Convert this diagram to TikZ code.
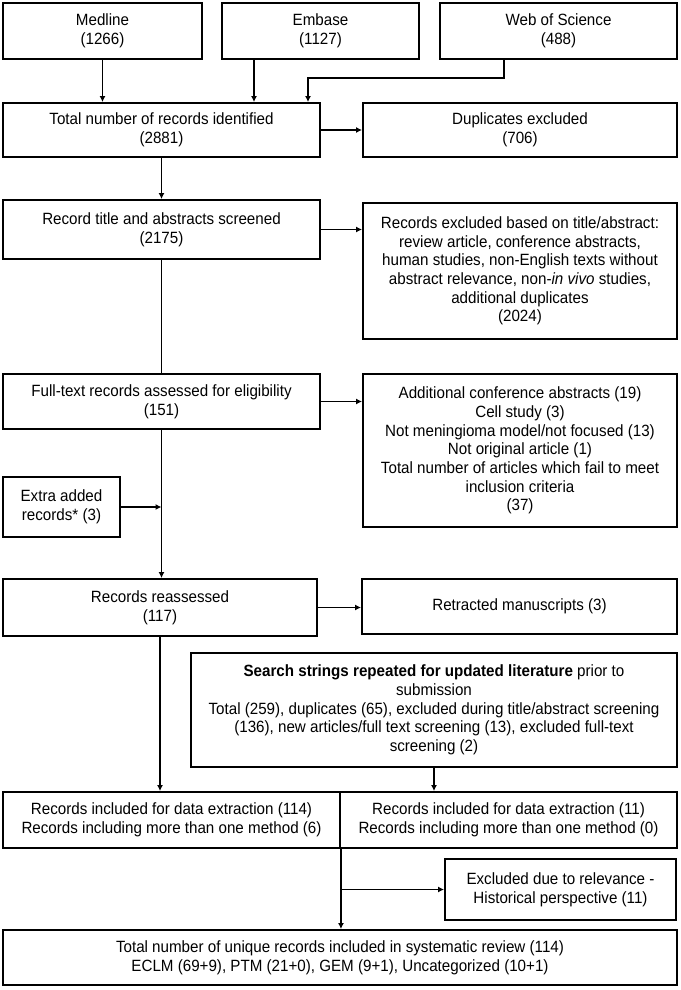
\documentclass[tikz,border=0pt]{standalone}
\usepackage{fontspec}
\setmainfont{Liberation Sans}[FakeStretch=0.93]
\usetikzlibrary{arrows.meta}

\tikzset{
  box/.style={draw, line width=1.9pt, align=center, inner sep=0pt,
    font=\fontsize{16.3}{18.7}\selectfont},
  arr/.style={line width=1.7pt, -{Latex[length=6pt,width=6pt]}},
  link/.style={line width=1.7pt}
}

\begin{document}
\begin{tikzpicture}[x=1pt, y=-1pt]
\useasboundingbox (0,0) rectangle (680,990);
% sources
\node[box, minimum width=199pt, minimum height=56pt] (med) at (102.5,31) {Medline\\(1266)};
\node[box, minimum width=197pt, minimum height=56pt] (emb) at (320.5,31) {Embase\\(1127)};
\node[box, minimum width=237pt, minimum height=56pt] (wos) at (558.5,31) {Web of Science\\(488)};
% main column
\node[box, minimum width=317pt, minimum height=54pt] (total) at (161.5,130) {Total number of records identified\\(2881)};
\node[box, minimum width=317pt, minimum height=59pt] (screen) at (161.5,229.5) {Record title and abstracts screened\\(2175)};
\node[box, minimum width=317pt, minimum height=55pt] (full) at (161.5,401.5) {Full-text records assessed for eligibility\\(151)};
\node[box, minimum width=117pt, minimum height=60pt] (extra) at (61.5,507) {Extra added\\records* (3)};
\node[box, minimum width=314pt, minimum height=57pt] (reass) at (160,607.5) {Records reassessed\\(117)};
% exclusions
\node[box, minimum width=314pt, minimum height=54pt] (dup) at (520,130) {Duplicates excluded\\(706)};
\node[box, minimum width=314pt, minimum height=136pt] (excl) at (520,271) {Records excluded based on title/abstract:\\review article, conference abstracts,\\human studies, non-English texts without\\abstract relevance, non-\textit{in vivo} studies,\\additional duplicates\\(2024)};
\node[box, minimum width=314pt, minimum height=153pt] (addl) at (520,450.5) {Additional conference abstracts (19)\\Cell study (3)\\Not meningioma model/not focused (13)\\Not original article (1)\\Total number of articles which fail to meet\\inclusion criteria\\(37)};
\node[box, minimum width=315pt, minimum height=55pt] (retr) at (519.5,606.5) {Retracted manuscripts (3)};
\node[box, minimum width=486pt, minimum height=114pt] (search) at (434,710) {\textbf{Search strings repeated for updated literature} prior to\\submission\\Total (259), duplicates (65), excluded during title/abstract screening\\(136), new articles/full text screening (13), excluded full-text\\screening (2)};
% inclusion
\node[box, minimum width=337pt, minimum height=56pt] (inclL) at (171.5,820) {Records included for data extraction (114)\\Records including more than one method (6)};
\node[box, minimum width=337pt, minimum height=56pt] (inclR) at (508.5,820) {Records included for data extraction (11)\\Records including more than one method (0)};
\node[box, minimum width=231pt, minimum height=61pt] (rel) at (560.5,889.5) {Excluded due to relevance -\\Historical perspective (11)};
\node[box, minimum width=674pt, minimum height=55pt] (final) at (340,957.5) {Total number of unique records included in systematic review (114)\\ECLM (69+9), PTM (21+0), GEM (9+1), Uncategorized (10+1)};

% connectors
\draw[arr] (med.south) -- (med.south |- total.north);
\draw[arr] ([xshift=-66.5pt]emb.south) -- ([xshift=-66.5pt]emb.south |- total.north);
\draw[arr] ([xshift=-54.5pt]wos.south) -- ++(0,18) -| ([xshift=146.5pt]total.north);
\draw[arr] (total.east) -- (dup.west);
\draw[arr] (total.south) -- (screen.north);
\draw[arr] (screen.east) -- (screen.east -| excl.west);
\draw[link] (screen.south) -- (full.north);
\draw[arr] (full.east) -- (full.east -| addl.west);
\draw[arr] (full.south) -- (full.south |- reass.north);
\draw[arr] (extra.east) -- (extra.east -| full.south);
\draw[arr] (reass.east) -- (reass.east -| retr.west);
\draw[arr] (reass.south) -- (reass.south |- inclL.north);
\draw[arr] (search.south) -- (search.south |- inclR.north);
\draw[arr] (inclL.south east) -- (inclL.south east |- final.north);
\draw[arr] (inclL.south east |- rel.west) -- (rel.west);
\end{tikzpicture}
\end{document}
